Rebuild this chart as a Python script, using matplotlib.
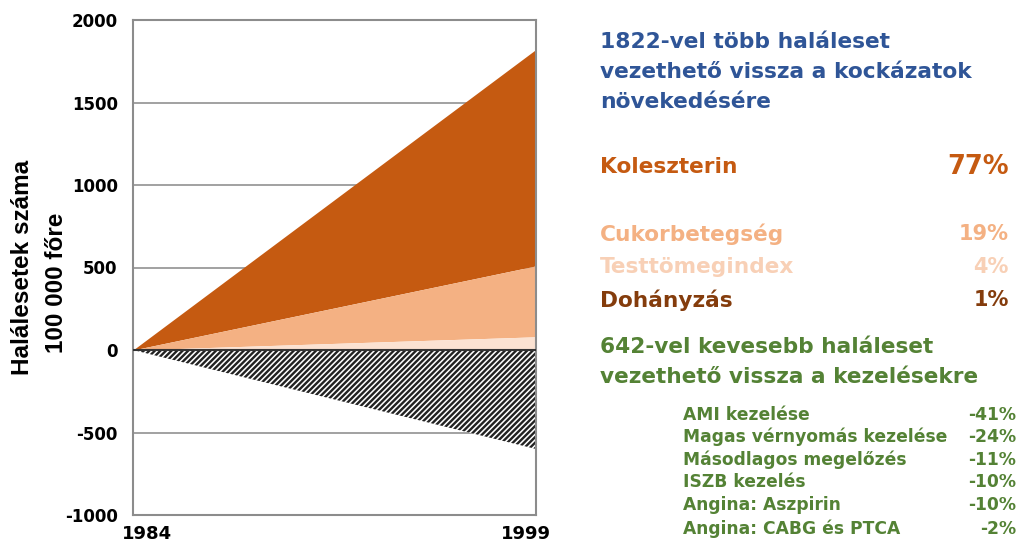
import matplotlib
matplotlib.use("Agg")
import matplotlib.pyplot as plt
from matplotlib.transforms import ScaledTranslation

plt.rcParams['font.family'] = ['DejaVu Sans']
plt.rcParams['font.weight'] = 'bold'
plt.rcParams['hatch.linewidth'] = 1.7

years = [1984, 1999]
pale_top = [0, 80]        # Dohányzás + Testtömegindex
light_top = [0, 510]      # + Cukorbetegség
dark_top = [0, 1822]      # + Koleszterin
treat_bottom = [0, -600]  # kezelések

yticks = [-1000, -500, 0, 500, 1000, 1500, 2000]

title_risk = ["1822-vel több haláleset", "vezethető vissza a kockázatok", "növekedésére"]
risk_names = ["Koleszterin", "Cukorbetegség", "Testtömegindex", "Dohányzás"]
risk_pcts = ["77%", "19%", "4%", "1%"]
title_treat = ["642-vel kevesebb haláleset", "vezethető vissza a kezelésekre"]
treat_names = ["AMI kezelése", "Magas vérnyomás kezelése", "Másodlagos megelőzés",
               "ISZB kezelés", "Angina: Aszpirin", "Angina: CABG és PTCA"]
treat_pcts = ["-41%", "-24%", "-11%", "-10%", "-10%", "-2%"]

c_dark = '#C55A11'
c_light = '#F4B183'
c_pale = '#FBE2D2'
c_pale_text = '#F8D0B6'
c_brown = '#843C0C'
c_blue = '#2F5597'
c_green = '#548235'

fig = plt.figure(figsize=(10.2, 5.46), dpi=100)
ax = fig.add_axes([133/1020, 1 - 515/546, (536-133)/1020, (515-20)/546])

ax.fill_between(years, light_top, dark_top, color=c_dark, lw=0, zorder=2)
ax.fill_between(years, pale_top, light_top, color=c_light, lw=0, zorder=2)
ax.fill_between(years, [0, 0], pale_top, color=c_pale, lw=0, zorder=2)
ax.fill_between(years, treat_bottom, [0, 0], facecolor='white', edgecolor='#222222',
                hatch='//////', lw=0, zorder=2)
ax.plot(years, [0, 0], color='#333333', lw=1.5, zorder=3)

for y in yticks[1:-1]:
    ax.axhline(y, color='#9a9a9a', lw=1.3, zorder=1)

ax.set_xlim(years)
ax.set_ylim(-1000, 2000)
ax.set_yticks(yticks)
ax.set_yticklabels([str(v) for v in yticks], fontsize=12, fontweight='bold')
ax.set_xticks(years)
ax.set_xticklabels([str(v) for v in years], fontsize=13, fontweight='bold')
ax.tick_params(axis='y', length=0, pad=11)
ax.tick_params(axis='x', length=0, pad=7)
shifts = [14, -10]
for lab, dx in zip(ax.get_xticklabels(), shifts):
    lab.set_transform(lab.get_transform() + ScaledTranslation(dx/100, 0, fig.dpi_scale_trans))
for s in ax.spines.values():
    s.set_color('#8c8c8c')
    s.set_linewidth(1.5)

fig.text(23/1020, 1 - 267/546, "Halálesetek száma", rotation=90, ha='center', va='center',
         fontsize=17.5, fontweight='bold', family='Liberation Sans')
fig.text(57/1020, 1 - 283/546, "100 000 főre", rotation=90, ha='center', va='center',
         fontsize=17.5, fontweight='bold', family='Liberation Sans')

def ft(x, y, s, **kw):
    fig.text(x/1020, 1 - y/546, s, va='center', fontweight='bold', **kw)

for i, line in enumerate(title_risk):
    ft(600, 42 + 30*i, line, color=c_blue, fontsize=15.7)

risk_colors = [c_dark, c_light, c_pale_text, c_brown]
risk_y = [167, 234, 267, 300]
risk_fs = [15.6, 15.6, 15.6, 15.6]
pct_fs = [18.5, 15, 15, 15]
for name, pct, col, y, fs, pfs in zip(risk_names, risk_pcts, risk_colors, risk_y, risk_fs, pct_fs):
    ft(600, y, name, color=col, fontsize=fs)
    ft(1009, y, pct, color=col, fontsize=pfs, ha='right')

for i, line in enumerate(title_treat):
    ft(600, 347 + 30*i, line, color=c_green, fontsize=15.6)

treat_y = [415, 437, 460, 482, 505, 529]
for name, pct, y in zip(treat_names, treat_pcts, treat_y):
    ft(683, y, name, color=c_green, fontsize=12.3)
    ft(1016, y, pct, color=c_green, fontsize=12.3, ha='right')

fig.savefig("out.png", dpi=100)
